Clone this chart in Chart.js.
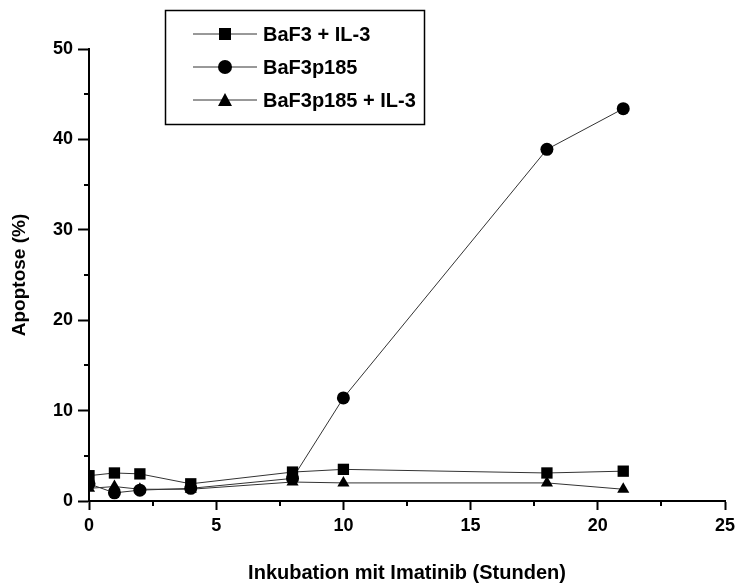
<!DOCTYPE html>
<html>
<head>
<meta charset="utf-8">
<script src="https://cdn.jsdelivr.net/npm/chart.js@4"></script>
<style>
  html, body { margin: 0; padding: 0; background: #fff; }
  #wrap { position: relative; width: 739px; height: 587px; }
</style>
</head>
<body>
<div id="wrap"><canvas id="chart" width="739" height="587"></canvas></div>
<script>
// data
const hours = [0, 1, 2, 4, 8, 10, 18, 21];
const baf3Il3 = [2.8, 3.1, 3.0, 1.9, 3.2, 3.5, 3.1, 3.3];
const baf3p185 = [1.9, 0.9, 1.2, 1.4, 2.5, 11.4, 38.9, 43.4];
const baf3p185Il3 = [1.4, 1.6, 1.3, 1.3, 2.1, 2.0, 2.0, 1.3];
const seriesNames = ['BaF3 + IL-3', 'BaF3p185', 'BaF3p185 + IL-3'];
const markers = ['rect', 'circle', 'triangle'];
const xTicks = [0, 5, 10, 15, 20, 25];
const yTicks = [0, 10, 20, 30, 40, 50];

const FONT = 'Liberation Sans, Arial, sans-serif';

const toPoints = (vals) => vals.map((v, i) => ({ x: hours[i], y: v }));

const makeSet = (label, vals, style, radius) => ({
  label: label,
  data: toPoints(vals),
  borderColor: '#333',
  borderWidth: 1,
  pointStyle: style,
  pointRadius: radius,
  pointBackgroundColor: '#000',
  pointBorderColor: '#000',
  pointBorderWidth: 0,
  tension: 0,
  fill: false
});

// minor ticks + boxed legend
const extras = {
  id: 'extras',
  afterDraw(chart) {
    const ctx = chart.ctx;
    const xs = chart.scales.x, ys = chart.scales.y;
    ctx.save();
    ctx.strokeStyle = '#000';
    ctx.lineWidth = 2;
    for (let v = 2.5; v < 25; v += 5) {
      const px = Math.round(xs.getPixelForValue(v));
      ctx.beginPath(); ctx.moveTo(px, xs.top); ctx.lineTo(px, xs.top + 5); ctx.stroke();
    }
    for (let v = 5; v < 50; v += 10) {
      const py = Math.round(ys.getPixelForValue(v));
      ctx.beginPath(); ctx.moveTo(ys.right, py); ctx.lineTo(ys.right - 5, py); ctx.stroke();
    }

    // legend box
    ctx.lineWidth = 1.5;
    ctx.strokeRect(165.5, 10.5, 259, 114);
    ctx.font = 'bold 20px ' + FONT;
    ctx.textBaseline = 'middle';
    ctx.fillStyle = '#000';
    const rows = [34, 67, 100];
    seriesNames.forEach((name, i) => {
      const y = rows[i];
      ctx.strokeStyle = '#333';
      ctx.lineWidth = 1;
      ctx.beginPath(); ctx.moveTo(193, y); ctx.lineTo(257, y); ctx.stroke();
      ctx.beginPath();
      if (markers[i] === 'rect') {
        ctx.rect(219, y - 6, 12, 12);
      } else if (markers[i] === 'circle') {
        ctx.arc(225, y, 7, 0, Math.PI * 2);
      } else {
        ctx.moveTo(225, y - 7); ctx.lineTo(232, y + 6); ctx.lineTo(218, y + 6); ctx.closePath();
      }
      ctx.fill();
      ctx.fillText(name, 263, y + 1);
    });
    ctx.restore();
  }
};

new Chart(document.getElementById('chart'), {
  type: 'line',
  data: {
    datasets: [
      makeSet(seriesNames[0], baf3Il3, 'rect', 8),
      makeSet(seriesNames[1], baf3p185, 'circle', 6.5),
      makeSet(seriesNames[2], baf3p185Il3, 'triangle', 7)
    ]
  },
  options: {
    responsive: false,
    animation: false,
    layout: { padding: { left: 0, right: 14, top: 49, bottom: 0 } },
    plugins: { legend: { display: false }, tooltip: { enabled: false } },
    scales: {
      x: {
        type: 'linear',
        min: 0,
        max: 25,
        afterFit(s) { s.height = 86; s.paddingLeft = 0; s.paddingRight = 0; },
        afterBuildTicks(s) { s.ticks = xTicks.map(v => ({ value: v })); },
        border: { display: true, color: '#000', width: 2 },
        grid: { display: true, drawOnChartArea: false, drawTicks: true, tickLength: 9, tickWidth: 2, tickColor: '#000' },
        ticks: { color: '#000', font: { family: FONT, size: 18, weight: 'bold' }, padding: 5, maxRotation: 0 },
        title: { display: true, text: 'Inkubation mit Imatinib (Stunden)', color: '#000',
                 font: { family: FONT, size: 20, weight: 'bold' }, padding: { bottom: 2 } }
      },
      y: {
        type: 'linear',
        min: 0,
        max: 50,
        afterFit(s) { s.width = 89; s.paddingTop = 0; s.paddingBottom = 0; },
        afterBuildTicks(s) { s.ticks = yTicks.map(v => ({ value: v })); },
        border: { display: true, color: '#000', width: 2 },
        grid: { display: true, drawOnChartArea: false, drawTicks: true, tickLength: 11, tickWidth: 2, tickColor: '#000' },
        ticks: { color: '#000', font: { family: FONT, size: 18, weight: 'bold' }, padding: 5 },
        title: { display: true, text: 'Apoptose (%)', color: '#000',
                 font: { family: FONT, size: 19, weight: 'bold' }, padding: { top: 8 } }
      }
    }
  },
  plugins: [extras]
});
</script>
</body>
</html>
